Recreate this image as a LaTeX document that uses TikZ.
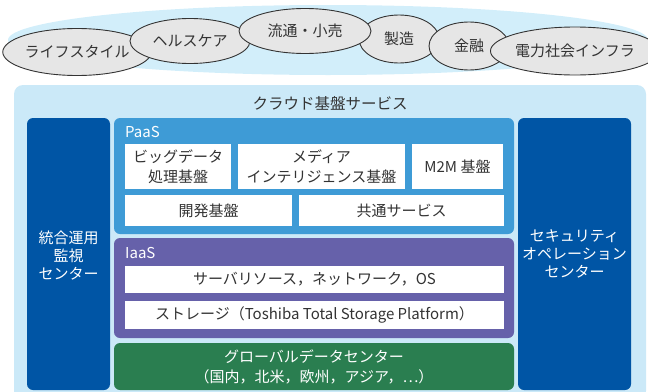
\documentclass[tikz,border=0pt]{standalone}
\usepackage{fontspec}
\setmainfont{Noto Sans CJK JP}
\usetikzlibrary{shapes.geometric}
\definecolor{skybg}{HTML}{CBE9F8}
\definecolor{skyell}{HTML}{D2EEFA}
\definecolor{grayell}{HTML}{E6E6E6}
\definecolor{darkblue}{HTML}{0055A5}
\definecolor{paasblue}{HTML}{3E9BD6}
\definecolor{iaaspurple}{HTML}{6661AA}
\definecolor{dcgreen}{HTML}{2A7E50}
\definecolor{txtgray}{HTML}{333333}
\tikzset{
  biz/.style={ellipse, draw=txtgray, line width=0.9pt, fill=grayell, inner sep=0pt, text=txtgray, font=\fontsize{15}{18}\selectfont},
  panel/.style={rectangle, rounded corners=6pt, inner sep=0pt, draw=none},
  wbox/.style={rectangle, fill=white, inner sep=0pt, text=txtgray, align=center, font=\fontsize{15}{20}\selectfont},
  wlabel/.style={text=white, inner sep=0pt, font=\fontsize{15}{18}\selectfont},
  ctext/.style={text=white, inner sep=0pt, align=center, font=\fontsize{15}{18}\selectfont},
}
\begin{document}
\begin{tikzpicture}[x=1pt,y=-1pt]
\useasboundingbox (0,0) rectangle (648,391);
\clip (0,0) rectangle (648,391);
% top ellipse band
\node[ellipse, fill=skyell, minimum width=640pt, minimum height=70pt, inner sep=0pt] (band) at (328,40) {};
\node[biz, minimum width=130pt, minimum height=47pt] (life) at (77,52) {ライフスタイル};
\node[biz, minimum width=120pt, minimum height=45pt] (health) at (190,41) {ヘルスケア};
\node[biz, minimum width=80pt, minimum height=48pt] (manu) at (399,39) {製造};
\node[biz, minimum width=80pt, minimum height=48pt] (fin) at (469,46) {金融};
\node[biz, minimum width=142pt, minimum height=48pt] (power) at (575,51) {電力社会インフラ};
\node[biz, minimum width=132pt, minimum height=45pt] (retail) at (305,31) {流通・小売};
% cloud platform
\node[panel, fill=skybg, minimum width=632pt, minimum height=315pt, rounded corners=9pt] (cloud) at (330,242.5) {};
\node[text=txtgray, inner sep=0pt, font=\fontsize{15.5}{18}\selectfont] (cloudt) at (330,103) {クラウド基盤サービス};
\node[panel, fill=darkblue, minimum width=83pt, minimum height=272pt] (ops) at (68.5,254) {};
\node[panel, fill=darkblue, minimum width=113pt, minimum height=272pt] (sec) at (574.5,254) {};
\node[ctext] (opst) at (68.5,256) {統合運用\\監視\\センター};
\node[ctext] (sect) at (574.5,254) {セキュリティ\\オペレーション\\センター};
% PaaS
\node[panel, fill=paasblue, minimum width=400pt, minimum height=116pt] (paas) at (314,176) {};
\node[wlabel, anchor=west] (paast) at (125,132) {PaaS};
\node[wbox, minimum width=106pt, minimum height=45pt] (bigdata) at (178,166.5) {ビッグデータ\\処理基盤};
\node[wbox, minimum width=167pt, minimum height=45pt] (media) at (321.5,166.5) {メディア\\インテリジェンス基盤};
\node[wbox, minimum width=91pt, minimum height=45pt] (m2m) at (457.5,166.5) {M2M 基盤};
\node[wbox, minimum width=167pt, minimum height=31pt] (dev) at (208.5,210.5) {開発基盤};
\node[wbox, minimum width=205pt, minimum height=31pt] (common) at (401.5,210.5) {共通サービス};
% IaaS
\node[panel, fill=iaaspurple, minimum width=400pt, minimum height=100pt] (iaas) at (314,288) {};
\node[wlabel, anchor=west] (iaast) at (125,253) {IaaS};
\node[wbox, minimum width=379pt, minimum height=27pt] (server) at (314.5,279.5) {サーバリソース，ネットワーク，OS};
\node[wbox, minimum width=379pt, minimum height=28pt] (storage) at (314.5,315) {ストレージ（Toshiba Total Storage Platform）};
% data center
\node[panel, fill=dcgreen, minimum width=400pt, minimum height=47pt] (dc) at (314,366.5) {};
\node[ctext, font=\fontsize{15}{20}\selectfont] (dct) at (314,367) {グローバルデータセンター\\（国内，北米，欧州，アジア，…）};
\end{tikzpicture}
\end{document}
